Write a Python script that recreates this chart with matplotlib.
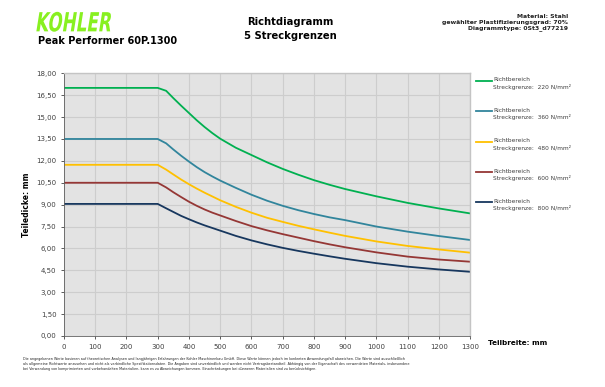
import matplotlib.pyplot as plt
from matplotlib.lines import Line2D
from matplotlib.patches import PathPatch
from matplotlib.textpath import TextPath
from matplotlib.font_manager import FontProperties
from matplotlib.transforms import Affine2D
from matplotlib.ticker import FuncFormatter, MultipleLocator

# Teilbreite (mm) und Teiledicke (mm) je Streckgrenze
breite = [0, 100, 200, 300, 327, 350, 375, 400, 425, 450, 475, 500, 550, 600, 650, 700,
          750, 800, 850, 900, 1000, 1100, 1200, 1300]
dicke_220 = [17.0, 17.0, 17.0, 17.0, 16.8, 16.3, 15.78, 15.28, 14.78, 14.32, 13.9, 13.52, 12.9, 12.4,
             11.9, 11.45, 11.05, 10.68, 10.36, 10.07, 9.57, 9.12, 8.74, 8.4]
dicke_360 = [13.5, 13.5, 13.5, 13.5, 13.2, 12.78, 12.35, 11.95, 11.57, 11.23, 10.93, 10.65, 10.15, 9.68,
             9.27, 8.92, 8.62, 8.36, 8.13, 7.94, 7.5, 7.15, 6.85, 6.58]
dicke_480 = [11.73, 11.73, 11.73, 11.73, 11.4, 11.07, 10.72, 10.4, 10.1, 9.82, 9.56, 9.3, 8.85, 8.45,
             8.1, 7.82, 7.55, 7.31, 7.08, 6.86, 6.48, 6.17, 5.93, 5.71]
dicke_600 = [10.5, 10.5, 10.5, 10.5, 10.18, 9.85, 9.52, 9.2, 8.92, 8.67, 8.45, 8.26, 7.88, 7.53,
             7.24, 6.98, 6.74, 6.5, 6.28, 6.08, 5.73, 5.44, 5.24, 5.09]
dicke_800 = [9.05, 9.05, 9.05, 9.05, 8.75, 8.5, 8.23, 8.0, 7.78, 7.58, 7.4, 7.22, 6.86, 6.55,
             6.28, 6.04, 5.83, 5.64, 5.46, 5.29, 4.99, 4.75, 4.56, 4.4]

grenzen = [220, 360, 480, 600, 800]
serien = [dicke_220, dicke_360, dicke_480, dicke_600, dicke_800]
farben = ['#00b050', '#31859c', '#ffc000', '#953735', '#17375e']

fig = plt.figure(figsize=(6.05, 3.87), dpi=100)
ax = fig.add_axes([0.1058, 0.1318, 0.6712, 0.6788])

for werte, farbe in zip(serien, farben):
    ax.plot(breite, werte, color=farbe, lw=1.3, solid_capstyle='round', solid_joinstyle='round')

ax.set_xlim(0, 1300)
ax.set_ylim(0, 18)
ax.xaxis.set_major_locator(MultipleLocator(100))
ax.yaxis.set_major_locator(MultipleLocator(1.5))
ax.yaxis.set_major_formatter(FuncFormatter(lambda v, p: f'{v:.2f}'.replace('.', ',')))
ax.set_facecolor('#e3e3e3')
ax.grid(True, color='#cdcdcd', lw=0.8)
ax.set_axisbelow(True)
ax.tick_params(labelsize=5, length=2.5, width=0.6, colors='#404040', pad=3)
for s in ['top', 'right']:
    ax.spines[s].set_color('#c4c4c4')
    ax.spines[s].set_linewidth(1.0)
for s in ['left', 'bottom']:
    ax.spines[s].set_color('#606060')
    ax.spines[s].set_linewidth(0.6)

ax.set_ylabel('Teiledicke: mm', fontsize=5.5, fontweight='bold', labelpad=4)
fig.text(0.806, 0.113, 'Teilbreite: mm', fontsize=5.2, fontweight='bold', va='center')

# Logo: schmal gestauchter, kursiver Schriftzug
logo = TextPath((0, 0), 'KOHLER', size=1, prop=FontProperties(family='DejaVu Sans', weight='heavy'))
ext = logo.get_extents()
sx = 0.122 / ext.width
sy = 0.0515 / ext.height
tr = Affine2D().translate(-ext.x0, -ext.y0).skew_deg(14, 0).scale(sx, sy).translate(0.060, 0.918)
fig.add_artist(PathPatch(logo, transform=tr + fig.transFigure, color='#88f020', lw=0))

fig.text(0.062, 0.895, 'Peak Performer 60P.1300', fontsize=7, fontweight='bold', va='center')
fig.text(0.48, 0.942, 'Richtdiagramm', fontsize=7.2, fontweight='bold', ha='center', va='center')
fig.text(0.48, 0.906, '5 Streckgrenzen', fontsize=7.2, fontweight='bold', ha='center', va='center')
fig.text(0.939, 0.963, 'Material: Stahl\ngewählter Plastifizierungsgrad: 70%\nDiagrammtype: 0St3_d77219',
         fontsize=4.4, fontweight='bold', ha='right', va='top', linespacing=1.1, color='#222222')

# Legende
for i, (g, farbe) in enumerate(zip(grenzen, farben)):
    y = 0.791 - i * 0.0785
    fig.add_artist(Line2D([0.787, 0.813], [y, y], color=farbe, lw=1.3, transform=fig.transFigure))
    fig.text(0.815, y + 0.009, 'Richtbereich\nStreckgrenze:  %d N/mm²' % g, fontsize=4.2,
             color='#404040', va='top', ha='left', linespacing=1.3)

fusstext = ('Die angegebenen Werte basieren auf theoretischen Analysen und langjährigen Erfahrungen der Kohler Maschinenbau GmbH. '
            'Diese Werte können jedoch im konkreten Anwendungsfall abweichen. Die Werte sind ausschließlich\n'
            'als allgemeine Richtwerte anzusehen und nicht als verbindliche Spezifikationsdaten. Die Angaben sind unverbindlich '
            'und werden nicht Vertragsbestandteil. Abhängig von der Eigenschaft des verwendeten Materials, insbesondere\n'
            'bei Verwendung von komprimierten und vorbehandelten Materialien, kann es zu Abweichungen kommen. '
            'Einschränkungen bei dünneren Materialien sind zu berücksichtigen.')
fig.text(0.038, 0.078, fusstext, fontsize=2.4, va='top', ha='left', linespacing=1.35, color='#222222')

fig.savefig('out.png', dpi=100)
